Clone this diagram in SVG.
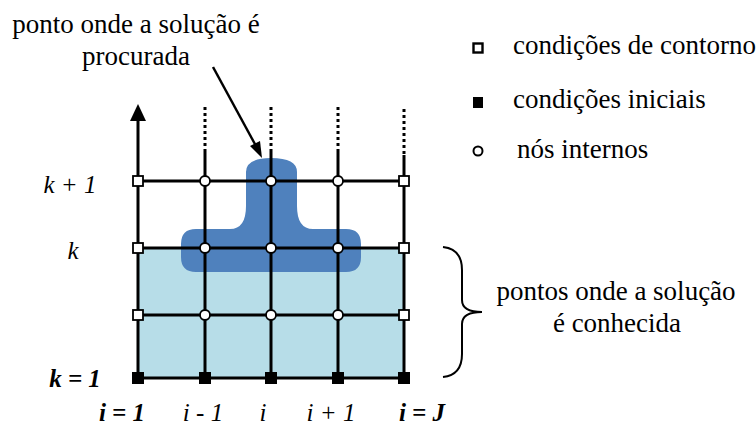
<svg xmlns="http://www.w3.org/2000/svg" width="756" height="428" viewBox="0 0 756 428">
<rect width="756" height="428" fill="#fff"/>
<g id="regions">
<rect x="138" y="248" width="266" height="130" fill="#b7dde8"/>
<path d="M196,229 H230 Q246,229 246,206 V172 Q246,158 271,158 Q297,158 297,172 V206 Q297,229 313,229 H346 Q361,229 361,244 V257 Q361,272 346,272 H196 Q181,272 181,257 V244 Q181,229 196,229 Z" fill="#4f81bd"/>
</g>
<g id="connectors" stroke="#000" fill="none">
<g stroke-width="3">
<line x1="138" y1="378" x2="138" y2="120"/>
<g stroke-dasharray="3 3">
<line x1="205" y1="107" x2="205" y2="152"/>
<line x1="271" y1="107" x2="271" y2="152"/>
<line x1="338" y1="107" x2="338" y2="152"/>
<line x1="404" y1="109" x2="404" y2="155"/>
</g>
<line x1="205" y1="152" x2="205" y2="378"/>
<line x1="271" y1="152" x2="271" y2="378"/>
<line x1="338" y1="152" x2="338" y2="378"/>
<line x1="404" y1="155" x2="404" y2="378"/>
<line x1="138" y1="181" x2="404" y2="181"/>
<line x1="138" y1="248" x2="404" y2="248"/>
<line x1="138" y1="315" x2="404" y2="315"/>
<line x1="138" y1="378" x2="404" y2="378"/>
</g>
<path d="M130,121 L138,104 L146,121 Z" fill="#000" stroke="none"/>
<line x1="213" y1="67" x2="256" y2="146" stroke-width="2.5"/>
<path d="M262,158 L250,146 L260,141 Z" fill="#000" stroke="none"/>
<path d="M443,247 Q462,249 462,270 V300 Q462,312 482,312 Q462,312 462,324 V354 Q462,375 443,377" stroke-width="2"/>
</g>
<g id="nodes">
<g fill="#fff" stroke="#000" stroke-width="1.8">
<rect x="133" y="176" width="10" height="10"/>
<rect x="399" y="176" width="10" height="10"/>
<rect x="133" y="243" width="10" height="10"/>
<rect x="399" y="243" width="10" height="10"/>
<rect x="133" y="310" width="10" height="10"/>
<rect x="399" y="310" width="10" height="10"/>
<circle cx="205" cy="181" r="5"/>
<circle cx="271" cy="181" r="5"/>
<circle cx="338" cy="181" r="5"/>
<circle cx="205" cy="248" r="5"/>
<circle cx="271" cy="248" r="5"/>
<circle cx="338" cy="248" r="5"/>
<circle cx="205" cy="315" r="5"/>
<circle cx="271" cy="315" r="5"/>
<circle cx="338" cy="315" r="5"/>
</g>
<g fill="#000">
<rect x="132" y="372" width="12" height="12"/>
<rect x="199" y="372" width="12" height="12"/>
<rect x="265" y="372" width="12" height="12"/>
<rect x="332" y="372" width="12" height="12"/>
<rect x="398" y="372" width="12" height="12"/>
</g>
</g>
<g id="legend">
<rect x="473.5" y="43.5" width="9" height="9" fill="#fff" stroke="#000" stroke-width="2.4"/>
<text x="513" y="54" font-family="Liberation Serif" font-size="27">condições de contorno</text>
<rect x="473" y="97" width="10" height="11" fill="#000"/>
<text x="513" y="108" font-family="Liberation Serif" font-size="27">condições iniciais</text>
<circle cx="478" cy="151" r="4.5" fill="#fff" stroke="#000" stroke-width="2"/>
<text x="517" y="158" font-family="Liberation Serif" font-size="27">nós internos</text>
</g>
<g id="labels">
<text x="136" y="33" text-anchor="middle" font-family="Liberation Serif" font-size="27">ponto onde a solução é</text>
<text x="136" y="65" text-anchor="middle" font-family="Liberation Serif" font-size="27">procurada</text>
<text x="616" y="300" text-anchor="middle" font-family="Liberation Serif" font-size="27">pontos onde a solução</text>
<text x="617" y="332" text-anchor="middle" font-family="Liberation Serif" font-size="27">é conhecida</text>
<text x="70" y="193" text-anchor="middle" font-family="Liberation Serif" font-size="25" font-style="italic">k + 1</text>
<text x="73" y="259" text-anchor="middle" font-family="Liberation Serif" font-size="25" font-style="italic">k</text>
<text x="75" y="387" text-anchor="middle" font-family="Liberation Serif" font-size="25" font-style="italic" font-weight="bold">k = 1</text>
<text x="122" y="421" text-anchor="middle" font-family="Liberation Serif" font-size="25" font-style="italic" font-weight="bold">i = 1</text>
<text x="203" y="421" text-anchor="middle" font-family="Liberation Serif" font-size="25" font-style="italic">i - 1</text>
<text x="263" y="421" text-anchor="middle" font-family="Liberation Serif" font-size="25" font-style="italic">i</text>
<text x="331" y="421" text-anchor="middle" font-family="Liberation Serif" font-size="25" font-style="italic">i + 1</text>
<text x="422" y="421" text-anchor="middle" font-family="Liberation Serif" font-size="25" font-style="italic" font-weight="bold">i = J</text>
</g>
</svg>
